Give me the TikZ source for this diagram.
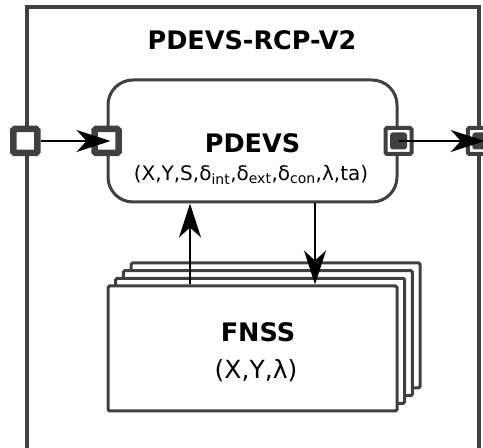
\documentclass[tikz,border=0pt]{standalone}
\usepackage{fontspec}
\setmainfont{DejaVu Sans}
\usepackage{tikz}
\usetikzlibrary{positioning, arrows.meta, calc}
\definecolor{mygray}{HTML}{404040}

\begin{document}
\begin{tikzpicture}[x=1pt, y=1pt,
  frame/.style={rectangle, draw=mygray, line width=3.5pt, fill=white,
    minimum width=452pt, minimum height=451pt},
  atomic/.style={rectangle, rounded corners=25pt, draw=mygray, line width=3pt, fill=white,
    minimum width=289pt, minimum height=122pt},
  fnssbox/.style={rectangle, rounded corners=1.5pt, draw=mygray, line width=3pt, fill=white,
    minimum width=289pt, minimum height=125pt},
  inport/.style={rectangle, rounded corners=1.5pt, draw=mygray, line width=6.5pt, fill=white,
    minimum size=24pt, inner sep=0pt},
  outport/.style={rectangle, rounded corners=1.5pt, draw=mygray, line width=4pt, fill=white,
    minimum size=26pt, inner sep=0pt},
  outdot/.style={rectangle, rounded corners=3pt, fill=mygray, minimum size=17pt, inner sep=0pt},
  title/.style={font=\fontsize{25.5}{30}\selectfont\bfseries},
  tuple/.style={font=\fontsize{20}{24}\selectfont},
  arr/.style={-{Stealth[length=34pt, width=22pt, inset=10pt]}, line width=1.5pt, black}
]
\useasboundingbox (0,0) rectangle (483,448);

% coupled model frame
\node[frame] (rcp) at (253,215.5) {};
\node[title] (rcpname) at (252,408) {PDEVS-RCP-V2};

% atomic model
\node[atomic] (pdevs) at (252.5,307) {};
\node[title] (pdevsname) at (252.5,305) {PDEVS};
\node[tuple] (pdevstuple) at (251,273)
  {(X,Y,S,δ\textsubscript{int},δ\textsubscript{ext},δ\textsubscript{con},λ,ta)};

% stacked FNSS
\coordinate (fc) at (252.5,99.5);
\foreach \i in {3,2,1}
  \node[fnssbox, xshift=\i*7.7pt, yshift=\i*7.7pt] (fnss\i) at (fc) {};
\node[fnssbox] (fnss) at (fc) {};
\node[title] (fnssname) at (258,116) {FNSS};
\node[tuple, font=\fontsize{25}{28}\selectfont] (fnsstuple) at (256,77) {(X,Y,λ)};

% ports
\node[inport] (rcpin) at (rcp.west |- pdevs.west) {};
\node[inport] (pdevsin) at (pdevs.west) {};
\node[outport] (pdevsout) at (pdevs.east) {};
\node[outdot] (pdevsdot) at (pdevsout.center) {};
\node[outport] (rcpout) at (rcp.east |- pdevs.east) {};
\node[outdot] (rcpdot) at (rcpout.center) {};

% couplings
\draw[arr, shorten >=-4pt] (rcpin) -- (pdevsin.center);
\draw[arr, shorten >=-4pt] (pdevsdot.center) -- (rcpout.center);
\draw[arr] ([xshift=-62.5pt]fnss.north) -- ([xshift=-62.5pt]pdevs.south);
\draw[arr] ([xshift=62.5pt]pdevs.south) -- ([xshift=62.5pt]fnss.north);
\end{tikzpicture}
\end{document}
